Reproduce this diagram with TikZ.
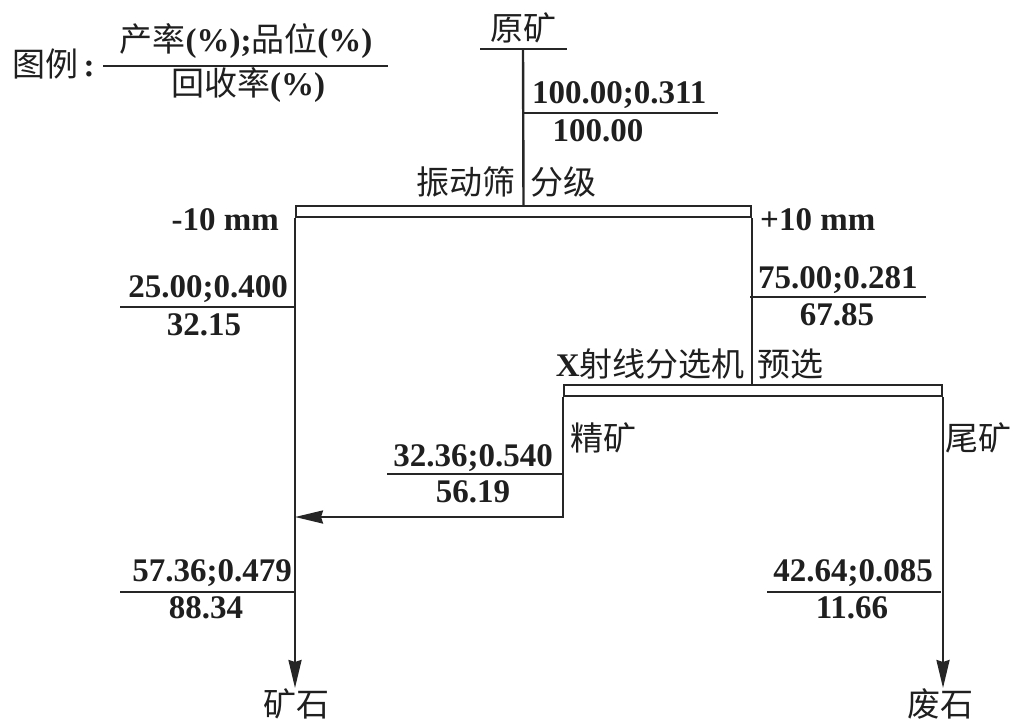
\documentclass[tikz,border=0pt]{standalone}
\usepackage{fontspec}
\setmainfont{Liberation Serif}
\newfontfamily\cjk{Noto Sans CJK SC}
\usetikzlibrary{arrows.meta}
\newcommand\zh[1]{{\cjk\mdseries #1}}
\begin{document}
\begin{tikzpicture}[x=1pt,y=-1pt,
  txt/.style={inner sep=0pt, font=\fontsize{33}{36}\selectfont\bfseries, text=black!88},
  flow/.style={line width=2.4pt, draw=black!85},
  arr/.style={flow, -{Stealth[length=28pt,width=13pt,inset=2pt]}},
  barbox/.style={draw=black!85, line width=2pt, inner sep=0pt, anchor=north west},
  frac/.style={line width=2pt, draw=black!85}]
\useasboundingbox (0,0) rectangle (1014,720);

% legend
\node[txt, anchor=west] (legname) at (12,64) {\zh{图例}\,:};
\node[txt, anchor=base] (legtop) at (246,51) {\zh{产率}(\%);\zh{品位}(\%)};
\node[txt, anchor=base] (legbot) at (248,95) {\zh{回收率}(\%)};
\coordinate (lega) at (103,66);
\coordinate (legb) at (388,66);
\draw[frac] (lega) -- (legb);

% feed
\node[txt] (feedlabel) at (523,28) {\zh{原矿}};
\coordinate (feedl) at (480,49);
\coordinate (feedr) at (567,49);
\coordinate (feed) at (523,49);
\draw[flow] (feedl) -- (feedr);

% screen
\node[barbox, minimum width=455pt, minimum height=11pt] (screen) at (295,205) {};
\node[txt, anchor=east] (screenl) at (516,182) {\zh{振动筛}};
\node[txt, anchor=west] (screenr) at (530,182) {\zh{分级}};
\draw[flow] (feed) -- (screen.north);

\node[txt, anchor=base west] (f1a) at (532,103) {100.00;0.311};
\node[txt, anchor=base] (f1b) at (598,141) {100.00};
\coordinate (f1l) at (523,113);
\coordinate (f1r) at (718,113);
\draw[frac] (f1l) -- (f1r);

% x-ray sorter
\node[barbox, minimum width=378pt, minimum height=11pt] (xray) at (563,384) {};
\node[txt, anchor=east] (xrayl) at (745,364) {X\zh{射线分选机}};
\node[txt, anchor=west] (xrayr) at (757,364) {\zh{预选}};

% size labels
\node[txt, anchor=base east] (minus) at (279,230) {-10 mm};
\node[txt, anchor=base west] (plus) at (760,230) {+10 mm};

% left -10 mm
\node[txt, anchor=base east] (m1a) at (288,297) {25.00;0.400};
\node[txt, anchor=base] (m1b) at (204,335) {32.15};
\coordinate (m1l) at (120,307);
\coordinate (m1r) at (295,307);
\draw[frac] (m1l) -- (m1r);

% right +10 mm
\node[txt, anchor=base west] (p1a) at (758,288) {75.00;0.281};
\node[txt, anchor=base] (p1b) at (837,325) {67.85};
\coordinate (p1l) at (750,297);
\coordinate (p1r) at (926,297);
\draw[frac] (p1l) -- (p1r);
\draw[flow] (screen.south east) -- (screen.south east |- xray.north);

% concentrate
\node[txt, anchor=west] (concl) at (570,438) {\zh{精矿}};
\node[txt, anchor=base east] (c1a) at (553,466) {32.36;0.540};
\node[txt, anchor=base] (c1b) at (473,502) {56.19};
\coordinate (c1l) at (387,474);
\coordinate (c1r) at (563,474);
\draw[frac] (c1l) -- (c1r);
\coordinate (merge) at (295,517);
\draw[arr] (xray.south west) |- (merge);

% tailings
\node[txt, anchor=west] (taill) at (945,438) {\zh{尾矿}};
\node[txt, anchor=base east] (t1a) at (933,581) {42.64;0.085};
\node[txt, anchor=base] (t1b) at (852,618) {11.66};
\coordinate (t1l) at (767,592);
\coordinate (t1r) at (941,592);
\draw[frac] (t1l) -- (t1r);

% ore product
\node[txt, anchor=base east] (o1a) at (292,581) {57.36;0.479};
\node[txt, anchor=base] (o1b) at (206,618) {88.34};
\coordinate (o1l) at (120,592);
\coordinate (o1r) at (295,592);
\draw[frac] (o1l) -- (o1r);

% products
\node[txt, anchor=north] (ore) at (296,688) {\zh{矿石}};
\node[txt, anchor=north] (waste) at (940,688) {\zh{废石}};
\draw[arr] (screen.south west) -- (screen.south west |- ore.north);
\draw[arr] (xray.south east) -- (xray.south east |- waste.north);
\end{tikzpicture}
\end{document}
